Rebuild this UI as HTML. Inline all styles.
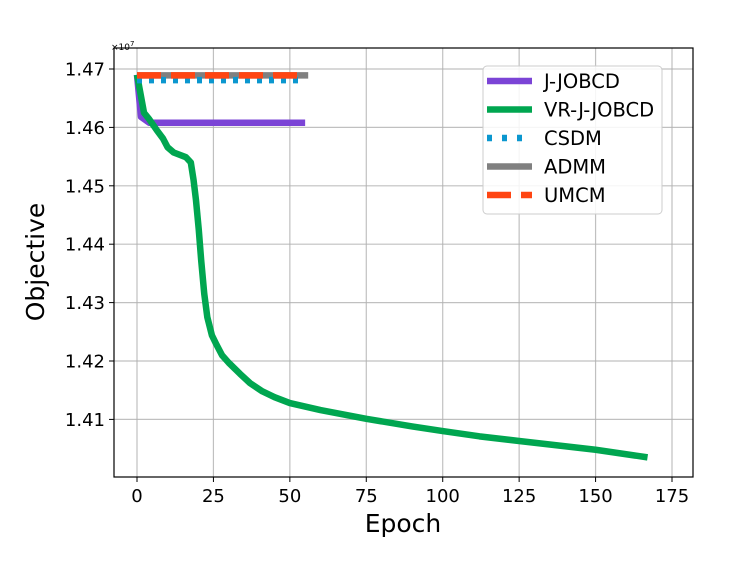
<!DOCTYPE html>
<html><head><meta charset="utf-8"><style>
body{margin:0;background:#fff}
svg text{font-family:"DejaVu Sans","Liberation Sans",sans-serif;fill:#000}
</style></head><body>
<svg id="chart" width="747" height="561" xmlns="http://www.w3.org/2000/svg">
<g id="grid"></g>
<g id="series"></g>
<rect x="114" y="48" width="579" height="429" fill="none" stroke="#000" stroke-width="1.2"/>
<g id="xticks"></g>
<g id="yticks"></g>
<text x="111" y="50" font-size="9">×10<tspan dy="-4" font-size="7">7</tspan></text>
<text x="403" y="532" font-size="25" text-anchor="middle">Epoch</text>
<text transform="translate(44,262) rotate(-90)" font-size="25" text-anchor="middle">Objective</text>
<g id="legend">
<rect x="483" y="66" width="179" height="148" rx="4" fill="#fff" fill-opacity="0.85" stroke="#ccc"/>
</g>
</svg>
<script>
const xTicks=[0,25,50,75,100,125,150,175];
const yTicks=[1.41,1.42,1.43,1.44,1.45,1.46,1.47];
const greenEp=[0,1,2.3,4,6.5,8.5,10,12,16,17.6,18.5,19.3,20.2,21,22,23,24.5,26,27.8,30,33.7,37,41,45,50,60,75,90,100,112,125,140,150,167];
const greenVal=[1.469,1.4662,1.4625,1.4614,1.4595,1.4581,1.4566,1.4557,1.4549,1.454,1.451,1.4475,1.4425,1.4372,1.4315,1.4275,1.4244,1.4228,1.421,1.4197,1.4178,1.4162,1.4148,1.4138,1.4128,1.4116,1.4101,1.4088,1.408,1.4071,1.4063,1.4054,1.4048,1.4035];
const purpleEp=[0,1.3,4,55];
const purpleVal=[1.469,1.4618,1.4608,1.4608];
const csdmEp=[0,54];
const csdmVal=[1.4681,1.4681];
const admmEp=[0,56];
const admmVal=[1.4689,1.4689];
const umcmEp=[0,53];
const umcmVal=[1.4689,1.4689];
const labels=["J-JOBCD","VR-J-JOBCD","CSDM","ADMM","UMCM"];

const X=v=>137+(v-0)*(672-137)/175;
const Y=v=>69+(1.47-v)*58.4/0.01;
const NS="http://www.w3.org/2000/svg";
function mk(t,a,p){const e=document.createElementNS(NS,t);for(const k in a)e.setAttribute(k,a[k]);p.appendChild(e);return e;}
const grid=document.getElementById('grid'),xt=document.getElementById('xticks'),yt=document.getElementById('yticks'),ser=document.getElementById('series'),leg=document.getElementById('legend');
xTicks.forEach(t=>{
 const g=mk('line',{x1:X(t),x2:X(t),y1:48,y2:477,stroke:'#b0b0b0','stroke-width':1.2,'stroke-opacity':0.8},grid);
 
 
 const tk=mk('line',{x1:X(t),x2:X(t),y1:477,y2:482,stroke:'#000'},xt);
 
 
 const tx=mk('text',{x:X(t),y:502,'font-size':18,'text-anchor':'middle'},xt);tx.textContent=t;
 
 
});
yTicks.forEach(t=>{
 const g=mk('line',{x1:114,x2:693,y1:Y(t),y2:Y(t),stroke:'#b0b0b0','stroke-width':1.2,'stroke-opacity':0.8},grid);
 
 
 const tk=mk('line',{x1:109,x2:114,y1:Y(t),y2:Y(t),stroke:'#000'},yt);
 
 
 const tx=mk('text',{x:105,y:Y(t)+6.5,'font-size':18,'text-anchor':'end'},yt);tx.textContent=t.toFixed(2);
 
 
});
const styles=[
 {ep:purpleEp,val:purpleVal,c:'#7b44d6',d:'',name:'j-jobcd-line'},
 {ep:greenEp,val:greenVal,c:'#00a650',d:'',name:'vr-j-jobcd-line'},
 {ep:admmEp,val:admmVal,c:'#808080',d:'',name:'admm-line'},
 {ep:csdmEp,val:csdmVal,c:'#0b97cf',d:'5 7',name:'csdm-line'},
 {ep:umcmEp,val:umcmVal,c:'#ff4512',d:'24 10',name:'umcm-line'}];
styles.forEach(s=>{
 const p=s.ep.map((e,i)=>X(e)+','+Y(s.val[i])).join(' ');
 const l=mk('polyline',{points:p,fill:'none',stroke:s.c,'stroke-width':6.5,'stroke-dasharray':s.d,'stroke-linejoin':'round'},ser);
 
 
});
const legStyle=[['#7b44d6',''],['#00a650',''],['#0b97cf','5 10'],['#808080',''],['#ff4512','24 10']];
labels.forEach((lab,i)=>{
 const y=81+i*28.5;
 const l=mk('line',{x1:487,x2:532,y1:y,y2:y,stroke:legStyle[i][0],'stroke-width':6.5,'stroke-dasharray':legStyle[i][1]},leg);
 
 
 const t=mk('text',{x:544,y:y+7,'font-size':19.5},leg);t.textContent=lab;
 
 
});
</script>
</body></html>
